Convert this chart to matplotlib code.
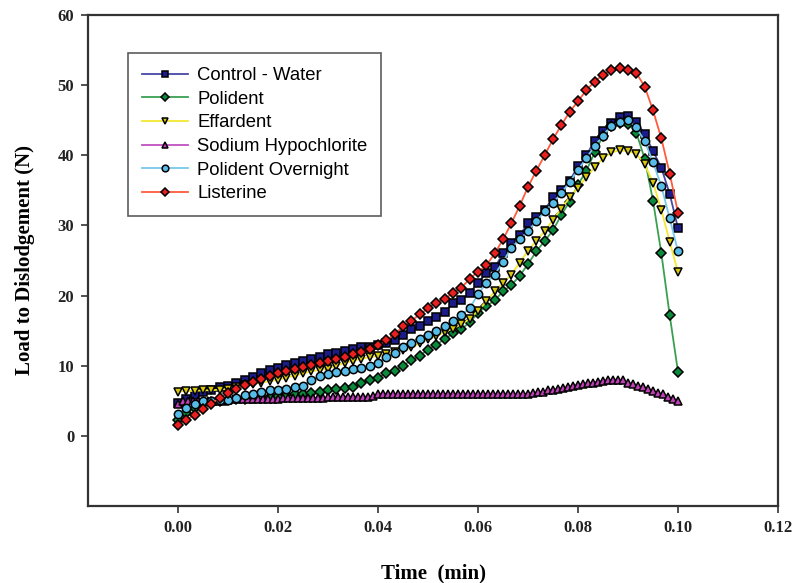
import numpy as np
import matplotlib
matplotlib.use("Agg")
import matplotlib.pyplot as plt

# time axis (min) for the main series, 61 samples from 0 to 0.1
time = np.linspace(0, 0.1, 61)
# sodium hypochlorite has denser sampling
time_hypo = np.linspace(0, 0.1, 101)

control_water = [4.7, 5.3, 5.8, 6.2, 6.6, 6.9, 7.1, 7.5, 7.9, 8.4,
                 8.9, 9.4, 9.7, 10.1, 10.4, 10.7, 10.9, 11.3, 11.6, 11.8,
                 12.1, 12.4, 12.6, 12.7, 12.9, 13.3, 13.6, 14.4, 15.2, 15.6,
                 16.4, 16.9, 17.6, 18.9, 19.4, 20.4, 21.8, 23.2, 24.0, 26.0,
                 27.5, 28.6, 30.3, 31.2, 32.2, 34.0, 35.1, 36.4, 38.4, 40.0,
                 42.1, 43.4, 44.6, 45.4, 45.6, 44.8, 43.0, 40.6, 38.2, 34.5,
                 29.6]

polident = [2.3, 3.2, 3.9, 4.4, 4.8, 5.0, 5.1, 5.2, 5.3, 5.4,
            5.5, 5.6, 5.7, 5.8, 5.9, 6.0, 6.1, 6.2, 6.5, 6.7,
            6.8, 7.0, 7.5, 7.9, 8.3, 8.9, 9.3, 10.0, 10.8, 11.4,
            12.3, 13.0, 13.8, 14.6, 15.2, 16.2, 17.5, 18.5, 19.3, 20.6,
            21.5, 22.8, 24.5, 26.3, 27.8, 29.3, 31.5, 33.4, 35.8, 37.8,
            40.4, 42.8, 44.2, 44.6, 44.5, 43.2, 39.5, 33.5, 26.0, 17.2,
            9.1]

effardent = [6.3, 6.4, 6.4, 6.5, 6.5, 6.6, 6.7, 7.0, 7.2, 7.4,
             7.6, 7.8, 8.0, 8.3, 8.6, 8.9, 9.2, 9.4, 9.6, 10.0,
             10.4, 10.7, 11.0, 11.2, 11.4, 11.7, 12.0, 12.2, 12.6, 13.2,
             13.8, 14.2, 14.8, 15.3, 15.9, 16.7, 17.8, 19.2, 20.6, 21.8,
             23.0, 24.7, 26.4, 27.8, 29.2, 30.8, 32.4, 34.0, 35.4, 36.9,
             38.3, 39.6, 40.4, 40.7, 40.6, 40.2, 38.7, 36.1, 32.2, 27.7,
             23.3]

sodium_hypo = [4.6, 4.9, 5.0, 5.0, 5.0, 5.0, 5.0, 5.0, 5.0, 5.0,
               5.1, 5.2, 5.2, 5.2, 5.2, 5.2, 5.2, 5.2, 5.2, 5.2,
               5.3, 5.4, 5.4, 5.4, 5.4, 5.4, 5.4, 5.4, 5.4, 5.4,
               5.5, 5.6, 5.6, 5.6, 5.6, 5.6, 5.6, 5.6, 5.6, 5.7,
               6.0, 6.0, 6.0, 6.0, 6.0, 6.0, 6.0, 6.0, 6.0, 6.0,
               6.0, 6.0, 6.0, 6.0, 6.0, 6.0, 6.0, 6.0, 6.0, 6.0,
               6.0, 6.0, 6.0, 6.0, 6.0, 6.0, 6.0, 6.0, 6.0, 6.0,
               6.0, 6.1, 6.2, 6.3, 6.5, 6.6, 6.7, 6.8, 7.0, 7.1,
               7.3, 7.4, 7.5, 7.6, 7.7, 7.8, 8.0, 8.0, 8.0, 7.9,
               7.6, 7.4, 7.1, 6.9, 6.7, 6.4, 6.1, 5.9, 5.6, 5.3,
               4.9]

polident_overnight = [3.1, 4.0, 4.6, 4.9, 5.0, 5.1, 5.1, 5.4, 5.8, 6.0,
                      6.2, 6.5, 6.6, 6.7, 6.9, 7.1, 8.0, 8.5, 8.8, 9.1,
                      9.3, 9.5, 9.7, 9.9, 10.4, 11.2, 11.8, 12.6, 13.2, 13.8,
                      14.4, 14.9, 15.6, 16.4, 17.2, 18.2, 20.2, 21.8, 23.0, 24.8,
                      26.8, 28.0, 29.2, 30.6, 32.0, 33.2, 34.6, 36.2, 37.9, 39.6,
                      41.3, 42.8, 44.2, 44.7, 45.0, 44.0, 42.0, 39.0, 35.6, 31.0,
                      26.3]

listerine = [1.5, 2.3, 3.0, 3.8, 4.6, 5.4, 6.1, 6.7, 7.2, 7.7,
             8.1, 8.5, 8.9, 9.2, 9.5, 9.8, 10.1, 10.4, 10.7, 11.0,
             11.3, 11.6, 12.0, 12.4, 12.9, 13.6, 14.5, 15.6, 16.4, 17.3,
             18.2, 19.0, 19.5, 20.4, 21.1, 22.4, 23.4, 24.3, 26.0, 28.0,
             30.3, 32.8, 35.5, 37.8, 40.0, 42.3, 44.3, 46.2, 47.7, 49.3,
             50.5, 51.5, 52.1, 52.5, 52.2, 51.7, 49.8, 46.4, 42.4, 37.4,
             31.8]

series = [
    ("Control - Water", time, control_water, "s", "#4848a8", "#1c1c88"),
    ("Polident", time, polident, "D", "#3aa050", "#0c8a3c"),
    ("Effardent", time, effardent, "v", "#f4e830", "#d8c810"),
    ("Sodium Hypochlorite", time_hypo, sodium_hypo, "^", "#c050c0", "#c040b8"),
    ("Polident Overnight", time, polident_overnight, "o", "#78c8ec", "#58bce8"),
    ("Listerine", time, listerine, "D", "#ff5a3c", "#e82020"),
]

fig = plt.figure(figsize=(8.06, 5.83), dpi=100)
ax = fig.add_axes([0.1092, 0.1321, 0.8561, 0.8422])

for name, x, y, mk, lc, fc in series:
    ms = 6 if mk != "D" else 5.2
    ax.plot(x, y, color=lc, linewidth=1.3, marker=mk, markersize=ms,
            markerfacecolor=fc, markeredgecolor="black", markeredgewidth=1.1,
            label=name)

ax.set_xlim(-0.018, 0.12)
ax.set_ylim(-10, 60)
ax.set_xticks(np.arange(0, 0.121, 0.02))
ax.set_xticklabels(["0.00", "0.02", "0.04", "0.06", "0.08", "0.10", "0.12"])
ax.set_yticks(np.arange(0, 61, 10))

serif = ["Liberation Serif", "DejaVu Serif"]
for lab in ax.get_xticklabels() + ax.get_yticklabels():
    lab.set_family(serif)
    lab.set_fontweight("bold")
    lab.set_fontsize(12)
    lab.set_color("#222222")

ax.tick_params(direction="out", length=5, width=1.2, color="#333333", pad=5)
for sp in ax.spines.values():
    sp.set_linewidth(1.6)
    sp.set_color("#333333")

ax.set_xlabel("Time  (min)", family=serif, fontweight="bold", fontsize=15,
              labelpad=20)
ax.set_ylabel("Load to Dislodgement (N)", family=serif, fontweight="bold",
              fontsize=15, labelpad=16)

leg = ax.legend(loc="upper left", bbox_to_anchor=(0.058, 0.922),
                prop={"family": ["Liberation Sans", "DejaVu Sans"], "size": 13.3},
                frameon=True, fancybox=False, edgecolor="#333333",
                handlelength=2.5, handletextpad=0.5, labelspacing=0.36,
                borderpad=0.75, borderaxespad=0, markerscale=0.8)
leg.get_frame().set_linewidth(1.2)

fig.savefig("out.png", dpi=100)
